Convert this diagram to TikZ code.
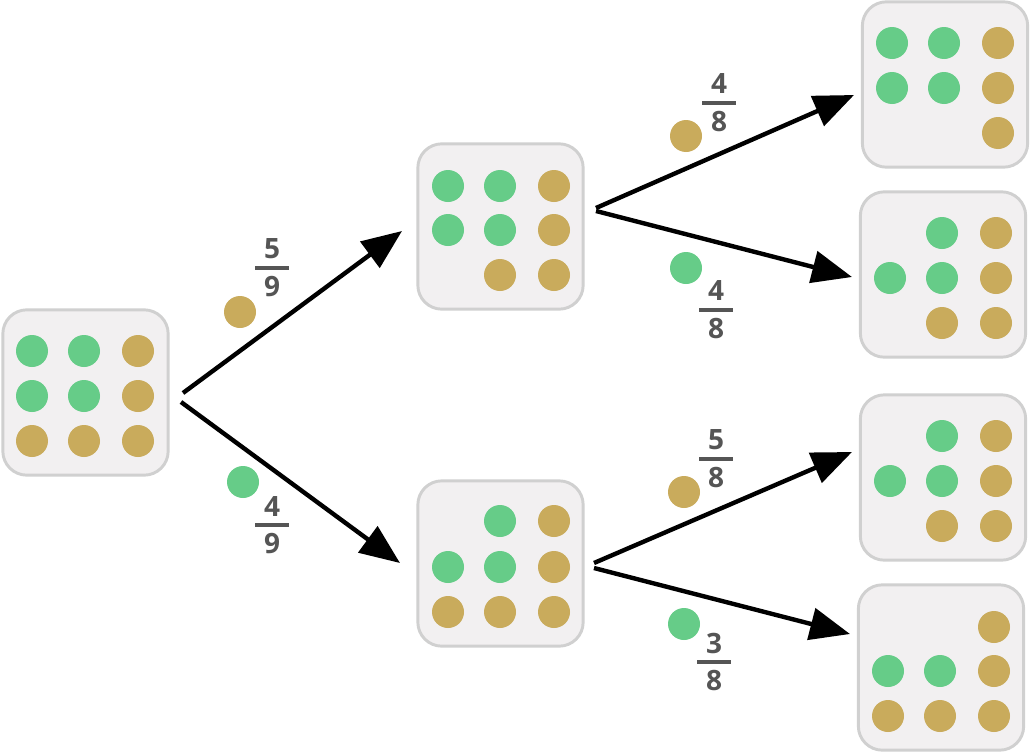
\documentclass[tikz,border=0pt]{standalone}
\usepackage{fontspec}
\setmainfont{Open Sans}
\usetikzlibrary{arrows.meta}
\definecolor{gr}{HTML}{66CC88}
\definecolor{gd}{HTML}{C9AB5C}
\definecolor{bx}{HTML}{F2F0F1}
\definecolor{bd}{HTML}{D0D0D0}
\definecolor{tx}{HTML}{555555}
\tikzset{
 boxst/.style={draw=bd,fill=bx,line width=2.2pt,rounded corners=18pt,minimum width=124pt,minimum height=124pt,inner sep=0pt},
 arr/.style={line width=3.3pt,-{Triangle[length=30pt,width=24pt]}},
 num/.style={font=\bfseries\fontsize{21}{22}\selectfont,text=tx,inner sep=0pt}
}
\newcommand{\G}[2]{\fill[gr] (#1,#2) circle (12pt);}
\newcommand{\Y}[2]{\fill[gd] (#1,#2) circle (12pt);}
\newcommand{\frc}[4]{\node[num] (#1n) at (#2,#3-19) {#4};\draw[tx,line width=2.5pt] (#2-17,#3) -- (#2+17,#3);}
\newcommand{\frd}[4]{\node[num] (#1d) at (#2,#3+19) {#4};}
\begin{document}
\begin{tikzpicture}[x=0.75pt,y=-0.75pt]
\useasboundingbox (0,0) rectangle (1030,753);
% boxes
\node[boxst] (r) at (85.5,392.5) {};
\node[boxst] (mt) at (500.5,226.5) {};
\node[boxst] (mb) at (500.5,563.5) {};
\node[boxst] (a) at (945,84.5) {};
\node[boxst] (b) at (943,274.5) {};
\node[boxst] (c) at (943,477.5) {};
\node[boxst] (d) at (941,667.5) {};
% dots root
\G{32}{351}\G{84}{351}\Y{138}{351}
\G{32}{396}\G{84}{396}\Y{138}{396}
\Y{32}{441}\Y{84}{441}\Y{138}{441}
% mid top
\G{448}{186}\G{500}{186}\Y{554}{186}
\G{448}{230}\G{500}{230}\Y{554}{230}
\Y{500}{275}\Y{554}{275}
% mid bottom
\G{500}{521}\Y{554}{521}
\G{448}{567}\G{500}{567}\Y{554}{567}
\Y{448}{612}\Y{500}{612}\Y{554}{612}
% right 1
\G{892}{43}\G{944}{43}\Y{998}{43}
\G{892}{88}\G{944}{88}\Y{998}{88}
\Y{998}{133}
% right 2
\G{942}{233}\Y{996}{233}
\G{890}{278}\G{942}{278}\Y{996}{278}
\Y{942}{323}\Y{996}{323}
% right 3
\G{942}{436}\Y{996}{436}
\G{890}{481}\G{942}{481}\Y{996}{481}
\Y{942}{526}\Y{996}{526}
% right 4
\Y{994}{627}
\G{888}{671}\G{940}{671}\Y{994}{671}
\Y{888}{716}\Y{940}{716}\Y{994}{716}
% arrows
\coordinate (s1) at (183,393); \coordinate (e1) at (402,231);
\coordinate (s2) at (181,402); \coordinate (e2) at (400,563);
\coordinate (s3) at (596,208); \coordinate (e3) at (854,95);
\coordinate (s4) at (596,211); \coordinate (e4) at (852,277);
\coordinate (s5) at (594,563); \coordinate (e5) at (852,452);
\coordinate (s6) at (594,568); \coordinate (e6) at (850,634);
\draw[arr] (s1) -- (e1);
\draw[arr] (s2) -- (e2);
\draw[arr] (s3) -- (e3);
\draw[arr] (s4) -- (e4);
\draw[arr] (s5) -- (e5);
\draw[arr] (s6) -- (e6);
% labels
\Y{240}{312}\frc{l1}{272}{268}{5}\frd{l1}{272}{268}{9}
\G{243}{482}\frc{l2}{272}{525}{4}\frd{l2}{272}{525}{9}
\Y{686}{136}\frc{l3}{719}{103}{4}\frd{l3}{719}{103}{8}
\G{686}{268}\frc{l4}{716}{310}{4}\frd{l4}{716}{310}{8}
\Y{684}{492}\frc{l5}{716}{459}{5}\frd{l5}{716}{459}{8}
\G{684}{624}\frc{l6}{714}{662}{3}\frd{l6}{714}{662}{8}
\end{tikzpicture}
\end{document}
